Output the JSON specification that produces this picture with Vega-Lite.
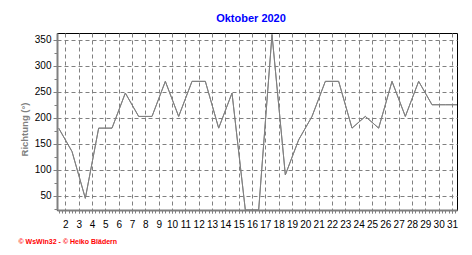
{
  "$schema": "https://vega.github.io/schema/vega-lite/v6.json",
  "autosize": "none",
  "padding": {"left": 57, "top": 33, "right": 15, "bottom": 45},
  "width": 400,
  "height": 177,
  "background": "white",
  "title": {"text": "Oktober 2020", "color": "#0000FF", "font": "Liberation Sans", "fontSize": 11, "fontWeight": "bold", "baseline": "alphabetic", "offset": 10, "dy": 10, "dx": -6, "anchor": "middle"},
  "config": {
    "view": {"stroke": "black", "strokeWidth": 1},
    "axis": {"labelFont": "Liberation Sans", "labelFontSize": 10, "labelColor": "black", "domainColor": "#808080", "domainWidth": 2, "tickColor": "#808080", "gridColor": "#808080", "gridDash": [4, 3], "gridWidth": 1, "labelOverlap": false, "labelBound": false, "labelFlush": false}
  },
  "data": {"values": [
    {"d": "2020-10-01T12:00:00", "v": 180},
    {"d": "2020-10-02T12:00:00", "v": 135},
    {"d": "2020-10-03T12:00:00", "v": 45},
    {"d": "2020-10-04T12:00:00", "v": 180},
    {"d": "2020-10-05T12:00:00", "v": 180},
    {"d": "2020-10-06T12:00:00", "v": 247.5},
    {"d": "2020-10-07T12:00:00", "v": 202.5},
    {"d": "2020-10-08T12:00:00", "v": 202.5},
    {"d": "2020-10-09T12:00:00", "v": 270},
    {"d": "2020-10-10T12:00:00", "v": 202.5},
    {"d": "2020-10-11T12:00:00", "v": 270},
    {"d": "2020-10-12T12:00:00", "v": 270},
    {"d": "2020-10-13T12:00:00", "v": 180},
    {"d": "2020-10-14T12:00:00", "v": 247.5},
    {"d": "2020-10-15T12:00:00", "v": 22.5},
    {"d": "2020-10-16T12:00:00", "v": 22.5},
    {"d": "2020-10-17T12:00:00", "v": 360},
    {"d": "2020-10-18T12:00:00", "v": 90},
    {"d": "2020-10-19T12:00:00", "v": 157.5},
    {"d": "2020-10-20T12:00:00", "v": 202.5},
    {"d": "2020-10-21T12:00:00", "v": 270},
    {"d": "2020-10-22T12:00:00", "v": 270},
    {"d": "2020-10-23T12:00:00", "v": 180},
    {"d": "2020-10-24T12:00:00", "v": 202.5},
    {"d": "2020-10-25T12:00:00", "v": 180},
    {"d": "2020-10-26T12:00:00", "v": 270},
    {"d": "2020-10-27T12:00:00", "v": 202.5},
    {"d": "2020-10-28T12:00:00", "v": 270},
    {"d": "2020-10-29T12:00:00", "v": 225},
    {"d": "2020-10-30T12:00:00", "v": 225},
    {"d": "2020-10-31T12:00:00", "v": 225}
  ]},
  "layer": [
    {
      "mark": {"type": "line", "stroke": "#808080", "strokeWidth": 1, "clip": true},
      "encoding": {
        "x": {
          "field": "d", "type": "temporal",
          "scale": {"domain": [{"year": 2020, "month": 10, "date": 1, "hours": 9}, {"year": 2020, "month": 10, "date": 31, "hours": 9}]},
          "axis": {
            "orient": "bottom",
            "grid": true,
            "tickCount": {"interval": "day", "step": 1},
            "format": "%-d",
            "tickSize": 3,
            "labelPadding": 6,
            "labelAngle": 0,
            "title": "© WsWin32  -  © Heiko Blädern",
            "titleColor": "#FF0000",
            "titleFont": "Liberation Sans",
            "titleFontSize": 7,
            "titleFontWeight": "bold",
            "titleAnchor": "start",
            "titleAlign": "left",
            "titleBaseline": "alphabetic",
            "titleX": -39,
            "titleY": 33
          }
        },
        "y": {
          "field": "v", "type": "quantitative",
          "scale": {"domain": [22.5, 363], "nice": false, "zero": false},
          "axis": {
            "orient": "left",
            "grid": true,
            "values": [50, 100, 150, 200, 250, 300, 350],
            "tickSize": 4,
            "labelPadding": 2,
            "title": "Richtung (°)",
            "titleColor": "#808080",
            "titleFont": "Liberation Sans",
            "titleFontSize": 9.5,
            "titleFontWeight": "bold",
            "titleAngle": -90,
            "titleAlign": "center",
            "titleBaseline": "alphabetic",
            "titleX": -30,
            "titleY": 96
          }
        }
      }
    },
    {
      "mark": {"type": "line", "stroke": "#808080", "strokeWidth": 1, "clip": true},
      "encoding": {
        "x": {
          "field": "d", "type": "temporal",
          "scale": {"domain": [{"year": 2020, "month": 10, "date": 1, "hours": 9}, {"year": 2020, "month": 10, "date": 31, "hours": 9}]},
          "axis": {
            "orient": "bottom",
            "tickCount": 120,
            "labels": false,
            "grid": false,
            "domain": false,
            "tickSize": 3,
            "title": ""
          }
        },
        "y": {
          "field": "v", "type": "quantitative",
          "scale": {"domain": [22.5, 363], "nice": false, "zero": false},
          "axis": {
            "orient": "left",
            "values": [25, 75, 125, 175, 225, 275, 325],
            "labels": false,
            "grid": false,
            "domain": false,
            "tickSize": 3,
            "title": ""
          }
        }
      }
    }
  ],
  "resolve": {"axis": {"x": "independent", "y": "independent"}}
}
